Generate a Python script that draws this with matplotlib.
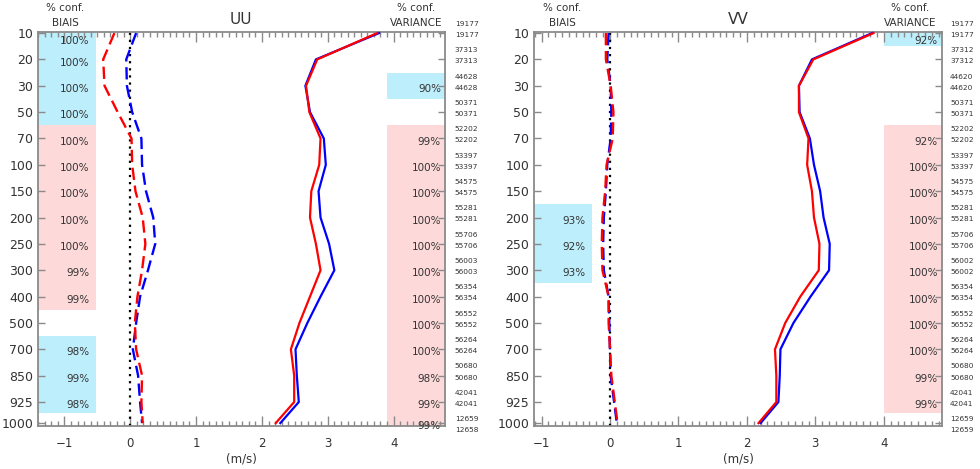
import matplotlib
matplotlib.use("Agg")
import matplotlib.pyplot as plt
import matplotlib.transforms as mtransforms
from matplotlib.ticker import MultipleLocator, FixedLocator
import numpy as np

plt.rcParams['font.family'] = ['DejaVu Sans']

levels = ['10', '20', '30', '50', '70', '100', '150', '200', '250', '300',
          '400', '500', '700', '850', '925', '1000']

# UU panel
uu_rms_blue = [3.78, 2.82, 2.66, 2.73, 2.94, 2.97, 2.86, 2.89, 3.02, 3.10, 2.89, 2.69, 2.51, 2.53, 2.56, 2.28]
uu_rms_red = [3.75, 2.84, 2.67, 2.72, 2.89, 2.87, 2.75, 2.73, 2.82, 2.89, 2.73, 2.57, 2.44, 2.49, 2.49, 2.21]
uu_bias_blue = [0.09, -0.06, -0.05, 0.03, 0.17, 0.18, 0.24, 0.35, 0.38, 0.27, 0.15, 0.09, 0.04, 0.12, 0.15, 0.18]
uu_bias_red = [-0.24, -0.41, -0.39, -0.19, 0.02, 0.03, 0.08, 0.19, 0.23, 0.18, 0.11, 0.07, 0.09, 0.18, 0.17, 0.19]
uu_bias_conf = ['100%', '100%', '100%', '100%', '100%', '100%', '100%', '100%', '100%', '99%',
                '99%', '', '98%', '99%', '98%', '']
uu_bias_sign = ['b', 'b', 'b', 'b', 'p', 'p', 'p', 'p', 'p', 'p', 'p', '', 'b', 'b', 'b', '']
uu_var_conf = ['', '', '90%', '', '99%', '100%', '100%', '100%', '100%', '100%',
               '100%', '100%', '100%', '98%', '99%', '99%']
uu_var_sign = ['', '', 'b', '', 'p', 'p', 'p', 'p', 'p', 'p', 'p', 'p', 'p', 'p', 'p', 'p']
uu_n_top = ['19177', '37313', '44628', '50371', '52202', '53397', '54575', '55281', '55706', '56003',
            '56354', '56552', '56264', '50680', '42041', '12659']
uu_n_bot = ['19177', '37313', '44628', '50371', '52202', '53397', '54575', '55281', '55706', '56003',
            '56354', '56552', '56264', '50680', '42041', '12658']

# VV panel
vv_rms_blue = [3.83, 2.95, 2.76, 2.77, 2.92, 2.98, 3.07, 3.12, 3.21, 3.20, 2.93, 2.68, 2.49, 2.48, 2.46, 2.20]
vv_rms_red = [3.85, 2.97, 2.76, 2.76, 2.90, 2.88, 2.95, 2.98, 3.06, 3.05, 2.78, 2.56, 2.41, 2.43, 2.43, 2.17]
vv_bias_blue = [-0.02, -0.04, 0.01, 0.02, 0.01, -0.04, -0.06, -0.09, -0.10, -0.09, -0.02, -0.01, 0.0, 0.01, 0.06, 0.10]
vv_bias_red = [-0.06, -0.06, 0.01, 0.05, 0.04, -0.05, -0.07, -0.11, -0.12, -0.11, -0.02, -0.02, 0.0, 0.02, 0.07, 0.11]
vv_bias_conf = ['', '', '', '', '', '', '', '93%', '92%', '93%', '', '', '', '', '', '']
vv_bias_sign = ['', '', '', '', '', '', '', 'b', 'b', 'b', '', '', '', '', '', '']
vv_var_conf = ['92%', '', '', '', '92%', '100%', '100%', '100%', '100%', '100%',
               '100%', '100%', '100%', '99%', '99%', '']
vv_var_sign = ['b', '', '', '', 'p', 'p', 'p', 'p', 'p', 'p', 'p', 'p', 'p', 'p', 'p', '']
vv_n_top = ['19177', '37312', '44620', '50371', '52202', '53397', '54575', '55281', '55706', '56002',
            '56354', '56552', '56264', '50680', '42041', '12659']
vv_n_bot = vv_n_top

x_ticks = [-1, 0, 1, 2, 3, 4]

BLUE_SHADE = '#bdeefb'
PINK_SHADE = '#fdd9d9'
TXT = '#333333'
SPINE = '#8a8a8a'

# vertical layout: equally spaced levels, last level slightly compressed
pos = list(np.arange(len(levels) - 1, dtype=float)) + [len(levels) - 1.2]
ytop, ybot = -0.04, len(levels) - 1.09
npos = np.arange(len(levels), dtype=float)

fig = plt.figure(figsize=(9.8, 4.69), dpi=100)


def band_edges(i):
    lo = ytop if i == 0 else 0.5 * (pos[i - 1] + pos[i])
    hi = ybot if i == len(pos) - 1 else 0.5 * (pos[i] + pos[i + 1])
    return lo, hi


def panel(rect, xlim, title, rms_b, rms_r, bias_b, bias_r,
          bconf, bsign, vconf, vsign, ntop, nbot, nx):
    ax = fig.add_axes(rect)
    ax.set_xlim(*xlim)
    ax.set_ylim(ybot, ytop)
    for i in range(len(levels)):
        lo, hi = band_edges(i)
        if bsign[i]:
            ax.axhspan(lo, hi, xmin=0, xmax=0.142,
                       color=BLUE_SHADE if bsign[i] == 'b' else PINK_SHADE, lw=0, zorder=0)
        if vsign[i]:
            ax.axhspan(lo, hi, xmin=0.857, xmax=1,
                       color=BLUE_SHADE if vsign[i] == 'b' else PINK_SHADE, lw=0, zorder=0)
    tr = mtransforms.blended_transform_factory(ax.transAxes, ax.transData)
    for i in range(len(levels)):
        ty = max(pos[i] + 0.12, 0.3)
        if bconf[i]:
            ax.text(0.127, ty, bconf[i], transform=tr, ha='right', va='center',
                    fontsize=7.5, color=TXT, zorder=5)
        if vconf[i]:
            ax.text(0.99, ty, vconf[i], transform=tr, ha='right', va='center',
                    fontsize=7.5, color=TXT, zorder=5)
        ax.text(nx, npos[i] - 0.35, ntop[i], transform=tr, ha='left', va='center',
                fontsize=5.3, color=TXT, clip_on=False)
        ax.text(nx, npos[i] + 0.07, nbot[i], transform=tr, ha='left', va='center',
                fontsize=5.3, color=TXT, clip_on=False)

    ax.axvline(0, color='black', ls=(0, (1, 2.2)), lw=1.6, zorder=2)
    ax.plot(rms_b, pos, color='#0000ff', lw=1.6, zorder=3, clip_on=False)
    ax.plot(rms_r, pos, color='#ff0000', lw=1.6, zorder=3, clip_on=False)
    ax.plot(bias_b, pos, color='#0000ff', lw=1.7, ls=(0, (5.2, 2.4)), zorder=3)
    ax.plot(bias_r, pos, color='#ff0000', lw=1.7, ls=(0, (5.2, 2.4)), zorder=3)

    ax.set_yticks(pos)
    ax.set_yticklabels(levels)
    ax.xaxis.set_major_locator(FixedLocator(x_ticks))
    ax.xaxis.set_minor_locator(MultipleLocator(0.1))
    ax.tick_params(axis='x', which='major', direction='in', top=True, bottom=True,
                   length=7, width=1, color=SPINE, labelsize=8.5, labelcolor=TXT, pad=8)
    ax.tick_params(axis='x', which='minor', direction='in', top=True, bottom=True,
                   length=3.5, width=1, color=SPINE)
    ax.tick_params(axis='y', which='major', direction='in', left=True, right=True,
                   length=5, width=1, color=SPINE, labelsize=9, labelcolor=TXT, pad=3.5)
    for sp in ax.spines.values():
        sp.set_color(SPINE)
        sp.set_linewidth(1.3)
    ax.set_xlabel('(m/s)', fontsize=8.5, color=TXT, labelpad=2)
    return ax


axL = panel([38 / 980, 1 - 426 / 469, 407 / 980, 394 / 469], (-1.40, 4.78), 'UU',
            uu_rms_blue, uu_rms_red, uu_bias_blue, uu_bias_red,
            uu_bias_conf, uu_bias_sign, uu_var_conf, uu_var_sign, uu_n_top, uu_n_bot, 1.024)
axR = panel([534 / 980, 1 - 426 / 469, 408 / 980, 394 / 469], (-1.11, 4.85), 'VV',
            vv_rms_blue, vv_rms_red, vv_bias_blue, vv_bias_red,
            vv_bias_conf, vv_bias_sign, vv_var_conf, vv_var_sign, vv_n_top, vv_n_bot, 1.02)

# panel titles
fig.text(241 / 980, 1 - 19 / 469, 'UU', ha='center', va='center', fontsize=11, color=TXT)
fig.text(738 / 980, 1 - 19 / 469, 'VV', ha='center', va='center', fontsize=11, color=TXT)

# column headers
for xc_b, xc_v in [(65 / 980, 416 / 980), (562 / 980, 910 / 980)]:
    fig.text(xc_b, 1 - 8 / 469, '% conf.', ha='center', va='center', fontsize=7.5, color=TXT)
    fig.text(xc_b, 1 - 23 / 469, 'BIAIS', ha='center', va='center', fontsize=7.5, color=TXT)
    fig.text(xc_v, 1 - 8 / 469, '% conf.', ha='center', va='center', fontsize=7.5, color=TXT)
    fig.text(xc_v, 1 - 23 / 469, 'VARIANCE', ha='center', va='center', fontsize=7.5, color=TXT)

fig.savefig('out.png', dpi=100)
